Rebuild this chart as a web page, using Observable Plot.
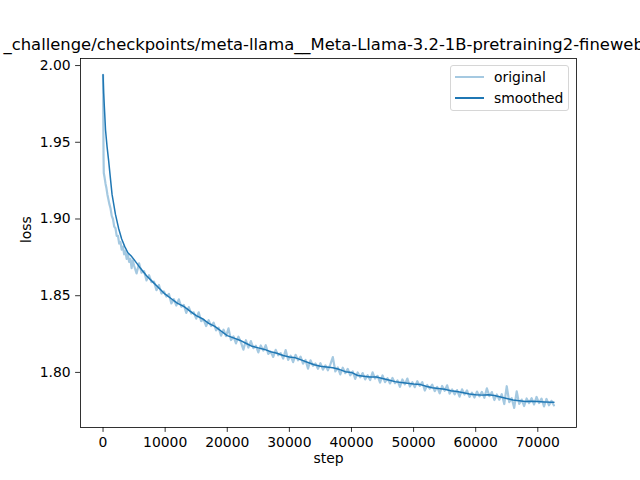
<!DOCTYPE html>
<html>
<head>
<meta charset="utf-8">
<script src="https://cdn.jsdelivr.net/npm/d3@7"></script>
<script src="https://cdn.jsdelivr.net/npm/@observablehq/plot@0.6"></script>
<style>
  html, body { margin: 0; padding: 0; background: white; overflow: hidden; }
  #wrap { position: relative; width: 640px; height: 480px; font-family: "DejaVu Sans", sans-serif; }
  #legend { position: absolute; left: 450px; top: 65px; width: 117px; height: 44px;
    border: 1px solid #d6d6d6; border-radius: 3px; background: rgba(255,255,255,0.8); font-size: 13.9px; }
  .entry { position: absolute; left: 0; height: 20px; line-height: 20px; }
  .entry span.sw { position: absolute; left: 4px; top: 9px; width: 29px; height: 0; border-top: 2px solid #1f77b4; }
  .entry span.tx { position: absolute; left: 43px; top: 0; white-space: nowrap; color: #000; }
</style>
</head>
<body>
<div id="wrap">
  <div id="chart"></div>
  <div id="legend">
    <div class="entry" style="top:1px"><span class="sw" style="border-top-color:#a5c9e1"></span><span class="tx">original</span></div>
    <div class="entry" style="top:22px"><span class="sw"></span><span class="tx">smoothed</span></div>
  </div>
</div>
<script>
const titleText = "_challenge/checkpoints/meta-llama__Meta-Llama-3.2-1B-pretraining2-fineweb";
const xLabel = "step";
const yLabel = "loss";
const xTicks = [0, 10000, 20000, 30000, 40000, 50000, 60000, 70000];
const yTicks = [1.80, 1.85, 1.90, 1.95, 2.00];

const originalSteps = [0, 40, 80, 120, 250, 400, 550, 700, 850, 1000, 1200, 1400, 1600, 1800, 2000, 2200, 2400, 2600, 2800, 3000,
 3200, 3400, 3600, 3800, 4000, 4200, 4400, 4600, 4800, 5000,
 5400, 5800, 6200, 6600, 7000, 7400, 7800, 8200, 8600, 9000, 9400, 9800, 10200, 10600, 11000, 11400, 11800, 12200, 12600, 13000,
 13400, 13800, 14200, 14600, 15000, 15400, 15800, 16200, 16600, 17000, 17400, 17800, 18200, 18600, 19000, 19400, 19800, 20200,
 20600, 21000, 21400, 21800, 22200, 22600, 23000, 23400, 23800, 24200, 24600, 25000, 25400, 25800, 26200, 26600, 27000, 27400,
 27800, 28200, 28600, 29000, 29400, 29800, 30200, 30600, 31000, 31400, 31800, 32200, 32600, 33000, 33400, 33800, 34200, 34600,
 35000, 35400, 35800, 36200, 36600, 37000, 37400, 37800, 38200, 38600, 39000, 39400, 39800, 40200, 40600, 41000, 41400, 41800,
 42200, 42600, 43000, 43400, 43800, 44200, 44600, 45000, 45400, 45800, 46200, 46600, 47000, 47400, 47800, 48200, 48600, 49000,
 49400, 49800, 50200, 50600, 51000, 51400, 51800, 52200, 52600, 53000, 53400, 53800, 54200, 54600, 55000, 55400, 55800, 56200,
 56600, 57000, 57400, 57800, 58200, 58600, 59000, 59400, 59800, 60200, 60600, 61000, 61400, 61800, 62200, 62600, 63000, 63400,
 63800, 64200, 64600, 65000, 65400, 65800, 66200, 66600, 67000, 67400, 67800, 68200, 68600, 69000, 69400, 69800, 70200, 70600,
 71000, 71400, 71800, 72200, 72600];
const originalLoss = [1.994, 1.965, 1.940, 1.930, 1.927, 1.923, 1.920, 1.916, 1.913, 1.910, 1.907, 1.902, 1.900, 1.895, 1.894, 1.889, 1.889, 1.884, 1.885, 1.880,
 1.882, 1.877, 1.879, 1.874, 1.877, 1.872, 1.874, 1.868, 1.873, 1.8695,
 1.8645, 1.8711, 1.8650, 1.8660, 1.8600, 1.8634, 1.8588, 1.8592, 1.8536, 1.8570, 1.8514, 1.8528, 1.8494, 1.8512, 1.8450, 1.8478, 1.8436, 1.8476, 1.8428, 1.8440,
 1.8388, 1.8426, 1.8384, 1.8392, 1.8350, 1.8392, 1.8334, 1.8344, 1.8302, 1.8340, 1.8302, 1.8324, 1.8274, 1.8292, 1.8240, 1.8278, 1.8236, 1.8287,
 1.8211, 1.8235, 1.8189, 1.8233, 1.8196, 1.8148, 1.8210, 1.8162, 1.8204, 1.8158, 1.8174, 1.8130, 1.8176, 1.8142, 1.8177, 1.8121, 1.8135, 1.8101,
 1.8147, 1.8112, 1.8126, 1.8090, 1.8146, 1.8082, 1.8109, 1.8067, 1.8115, 1.8079, 1.8103, 1.8057, 1.8081, 1.8025, 1.8079, 1.8043, 1.8058, 1.8024,
 1.8060, 1.8018, 1.8046, 1.8014, 1.8052, 1.8100, 1.8006, 1.8032, 1.7987, 1.8031, 1.7995, 1.8023, 1.7981, 1.8006, 1.7958, 1.8000, 1.7968, 1.7996,
 1.7954, 1.7982, 1.7950, 1.8000, 1.7960, 1.7978, 1.7934, 1.7980, 1.7936, 1.7962, 1.7928, 1.7964, 1.7930, 1.7948, 1.7906, 1.7954, 1.7922, 1.7960,
 1.7908, 1.7936, 1.7904, 1.7943, 1.7912, 1.7937, 1.7882, 1.7918, 1.7894, 1.7920, 1.7878, 1.7906, 1.7864, 1.7912, 1.7880, 1.7916, 1.7862, 1.7889,
 1.7857, 1.7885, 1.7842, 1.7890, 1.7856, 1.7883, 1.7840, 1.7868, 1.7836, 1.7875, 1.7844, 1.7873, 1.7835, 1.7896, 1.7845, 1.7872, 1.7820, 1.7856,
 1.7822, 1.7858, 1.7794, 1.7910, 1.7806, 1.7832, 1.7769, 1.7877, 1.7795, 1.7823, 1.7781, 1.7830, 1.7800, 1.7832, 1.7791, 1.7840, 1.7800, 1.7829,
 1.7778, 1.7827, 1.7786, 1.7815, 1.7785];

const smoothedSteps = [0, 100, 250, 400, 650, 900, 1200, 1450, 2000, 2500, 3000, 3500, 4000, 4500, 5000, 6000, 7000, 8000, 9000, 10000,
 11000, 12000, 13000, 14000, 15000, 16000, 17000, 18000, 19000, 20000, 21000, 22000, 23000, 24000, 25000, 26000, 27000, 28000, 29000, 30000,
 31000, 32000, 33000, 34000, 35000, 36000, 37000, 38000, 39000, 40000, 41000, 42000, 43000, 44000, 45000, 46000, 47000, 48000, 49000, 50000,
 51000, 52000, 53000, 54000, 55000, 56000, 57000, 58000, 59000, 60000, 61000, 62000, 63000, 64000, 65000, 66000, 67000, 68000, 69000, 70000,
 71000, 72000, 72600];
const smoothedLoss = [1.994, 1.982, 1.970, 1.958, 1.947, 1.938, 1.926, 1.916, 1.903, 1.894, 1.887, 1.882, 1.878, 1.876, 1.8735, 1.868, 1.863, 1.859, 1.855, 1.851,
 1.848, 1.845, 1.843, 1.840, 1.837, 1.835, 1.832, 1.830, 1.827, 1.824, 1.8225, 1.821, 1.819, 1.817, 1.816, 1.815, 1.8135, 1.8125, 1.811, 1.810,
 1.8095, 1.808, 1.8065, 1.805, 1.804, 1.8035, 1.803, 1.802, 1.8005, 1.800, 1.798, 1.7975, 1.797, 1.797, 1.796, 1.795, 1.794, 1.7935, 1.793, 1.7925,
 1.7922, 1.791, 1.790, 1.7895, 1.789, 1.788, 1.7875, 1.7868, 1.786, 1.7855, 1.7852, 1.7855, 1.785, 1.784, 1.783, 1.782, 1.7815, 1.781, 1.7812, 1.781,
 1.7808, 1.7805, 1.7805];

const original = originalSteps.map((s, i) => ({step: s, loss: originalLoss[i]}));
const smoothed = smoothedSteps.map((s, i) => ({step: s, loss: smoothedLoss[i]}));

const blue = "#1f77b4";
const chart = Plot.plot({
  width: 640,
  height: 480,
  marginLeft: 80,
  marginRight: 64,
  marginTop: 58,
  marginBottom: 53,
  style: {fontFamily: "DejaVu Sans", fontSize: "13.9px", color: "black", background: "white", overflow: "hidden"},
  x: {domain: [-3630, 76230]},
  y: {domain: [1.7641, 2.0046]},
  marks: [
    Plot.line(original, {x: "step", y: "loss", stroke: blue, strokeOpacity: 0.4, strokeWidth: 2.2}),
    Plot.line(smoothed, {x: "step", y: "loss", stroke: blue, strokeWidth: 1.5}),
    Plot.frame({stroke: "black", strokeWidth: 0.8}),
    Plot.axisX({ticks: xTicks, tickFormat: d => String(d), tickSize: 4.9, tickPadding: 4.9, label: null, strokeWidth: 0.8}),
    Plot.axisY({ticks: yTicks, tickFormat: d => d.toFixed(2), tickSize: 4.9, tickPadding: 4.9, label: null, strokeWidth: 0.8}),
    Plot.text([xLabel], {text: d => d, frameAnchor: "bottom", dy: 35, fill: "black"}),
    Plot.text([yLabel], {text: d => d, frameAnchor: "left", dx: -54, rotate: -90, fill: "black"}),
    Plot.text([titleText], {text: d => d, frameAnchor: "top-left", dx: -77, dy: -13.5, lineAnchor: "middle", textAnchor: "start", fontSize: 16.4, fill: "black"})
  ]
});
document.getElementById("chart").appendChild(chart);
</script>
</body>
</html>
